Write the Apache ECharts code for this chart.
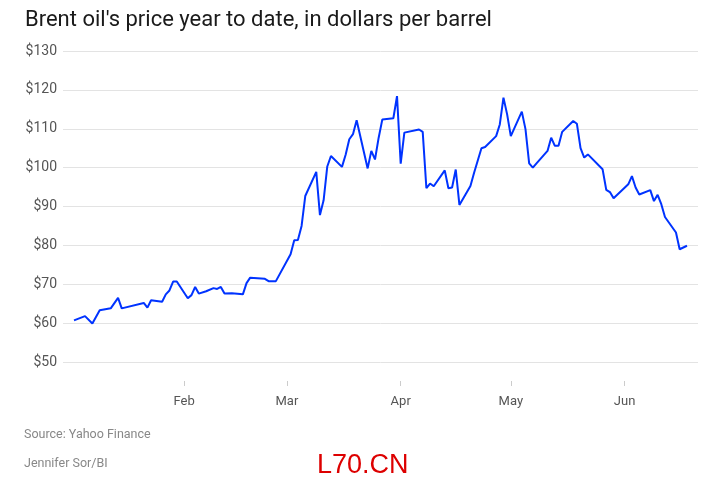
<!DOCTYPE html>
<html>
<head>
<meta charset="utf-8">
<script src="https://cdn.jsdelivr.net/npm/echarts@6/dist/echarts.min.js"></script>
<style>
  html, body { margin: 0; padding: 0; background: #fff; }
  #main { width: 727px; height: 484px; }
</style>
</head>
<body>
<div id="main"></div>
<script>
// day of year (Jan 1 = 0) for each point
var days = [1, 4, 6, 8, 11, 13, 14, 20, 21, 22, 25, 26, 27, 28, 29, 32, 33, 34, 35, 37, 39, 40, 41, 42, 44,
  47, 48, 49, 53, 54, 56, 60, 61, 62, 63, 64, 67, 68, 69, 70, 71, 74, 75, 76, 77, 78, 81, 82, 83, 84, 85,
  88, 89, 90, 91, 95, 96, 97, 98, 99, 102, 103, 104, 105, 106, 109, 110, 112, 113, 116, 117, 118, 119, 120,
  123, 124, 125, 126, 127, 130, 131, 132, 133, 134, 137, 138, 139, 140, 141, 145, 146, 147, 148, 152, 153,
  154, 155, 158, 159, 160, 161, 162, 165, 166, 168]
// price in dollars
var prices = [60.7, 61.8, 59.9, 63.3, 63.8, 66.5, 63.8, 65.2, 64.0, 65.9, 65.5, 67.4, 68.4, 70.7, 70.7,
  66.4, 67.2, 69.3, 67.6, 68.2, 69.0, 68.8, 69.3, 67.6, 67.7,
  67.4, 70.3, 71.7, 71.4, 70.8, 70.8, 77.7, 81.3, 81.4, 85.0, 92.7, 98.9, 87.8, 91.6, 100.3, 103.0,
  100.2, 103.3, 107.3, 108.6, 112.2, 99.8, 104.3, 102.1, 107.7, 112.4,
  112.7, 118.4, 101.0, 109.0, 109.8, 109.2, 94.7, 95.9, 95.2, 99.3, 94.7, 94.9, 99.5, 90.4,
  95.3, 98.7, 105.0, 105.3, 108.1, 111.1, 118.0, 113.7, 108.1,
  114.4, 109.9, 101.1, 100.0, 101.1, 104.3, 107.7, 105.6, 105.6, 109.2,
  112.0, 111.3, 105.0, 102.6, 103.4, 99.6, 94.3, 93.7, 92.1, 95.7, 97.8,
  94.9, 93.1, 94.2, 91.4, 93.0, 90.6, 87.3, 83.3, 79.0, 79.9]
// month ticks
var monthDays = [31, 59, 90, 120, 151]
var monthNames = ['Feb', 'Mar', 'Apr', 'May', 'Jun']

var points = days.map(function (d, i) { return [d, prices[i]] })

var myChart = echarts.init(document.getElementById('main'))
var option = {
  backgroundColor: '#fff',
  animation: false,
  textStyle: { fontFamily: 'Roboto' },
  title: {
    text: "Brent oil's price year to date, in dollars per barrel",
    left: 20,
    top: 4,
    textStyle: {
      fontFamily: 'Roboto',
      fontSize: 22,
      fontWeight: 'normal',
      color: '#1a1a1a'
    }
  },
  grid: {
    left: 63,
    right: 29,
    top: 51,
    bottom: 122
  },
  xAxis: {
    type: 'value',
    min: -2,
    max: 171,
    offset: 19,
    axisLine: { show: false },
    splitLine: { show: false },
    axisTick: {
      show: true,
      length: 5,
      lineStyle: { color: '#cccccc' },
      customValues: monthDays
    },
    axisLabel: {
      margin: 14,
      color: '#555',
      fontSize: 13,
      customValues: monthDays,
      formatter: function (v) {
        var i = monthDays.indexOf(v)
        return i >= 0 ? monthNames[i] : ''
      }
    }
  },
  yAxis: {
    type: 'value',
    min: 50,
    max: 130,
    interval: 10,
    axisLine: { show: false },
    axisTick: { show: false },
    splitLine: { lineStyle: { color: '#e3e3e3', width: 1 } },
    axisLabel: {
      margin: 6,
      color: '#555',
      fontSize: 14,
      formatter: '${value}'
    }
  },
  series: [
    {
      type: 'line',
      data: points,
      symbol: 'none',
      lineStyle: { color: '#0033ff', width: 2 }
    }
  ],
  graphic: [
    {
      type: 'text',
      left: 24,
      top: 428,
      style: { text: 'Source: Yahoo Finance', fill: '#888', font: '12.5px Roboto' }
    },
    {
      type: 'text',
      left: 24,
      top: 457,
      style: { text: 'Jennifer Sor/BI', fill: '#888', font: '12.5px Roboto' }
    },
    {
      type: 'text',
      left: 317,
      top: 452,
      style: { text: 'L70.CN', fill: '#dd0000', font: '27px "Liberation Sans"' }
    }
  ]
}
myChart.setOption(option)
</script>
</body>
</html>
